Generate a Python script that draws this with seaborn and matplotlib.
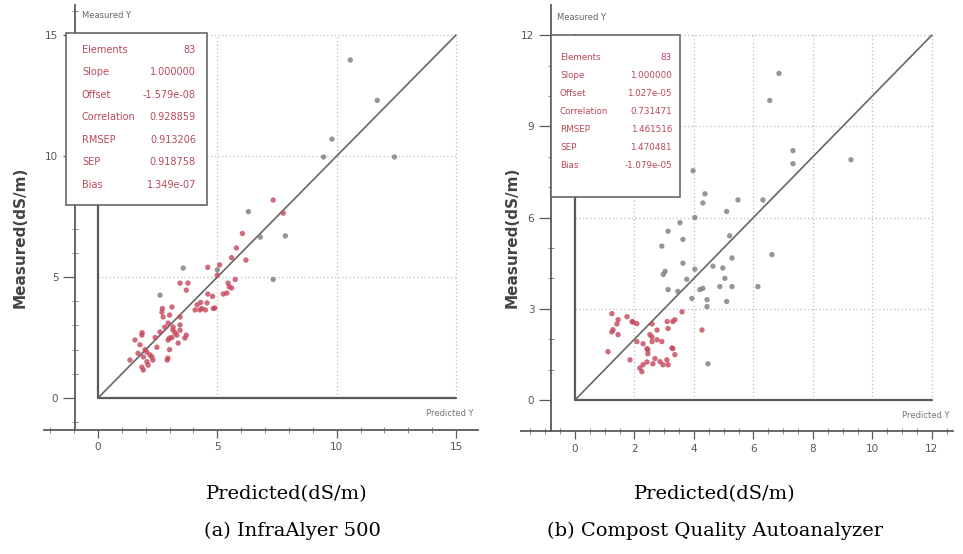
import matplotlib
matplotlib.use("Agg")
import matplotlib.pyplot as plt
import matplotlib.ticker as mticker
from matplotlib.patches import Rectangle
import pandas as pd
import seaborn as sns

# ---- (a) InfraAlyer 500: predicted vs measured EC (dS/m) ----
a_pred = [10.57, 11.7, 9.8, 9.45, 12.42, 7.34, 7.85, 6.8, 6.3, 5.0, 3.57, 2.6,
          7.34, 7.76, 6.05, 5.8, 6.2, 5.6, 4.6, 3.44, 3.7, 5.75, 5.5, 5.25, 4.8,
          4.6, 4.15, 4.35, 4.07, 4.5, 4.83, 4.3, 2.7, 3.1, 2.73, 3.44, 2.94, 3.15,
          3.23, 3.1, 3.44, 3.7, 2.94, 3.36, 3.0, 2.9, 2.6, 2.4, 1.85, 1.55, 1.76,
          1.97, 1.68, 2.18, 2.05, 1.9, 2.3, 1.34, 2.47,
          3.77, 5.0, 5.1, 5.45, 5.6, 5.4, 4.27, 4.57, 4.9, 2.68, 3.0, 2.8, 3.14,
          3.3, 3.0, 3.44, 3.64, 1.84, 2.05, 2.26, 1.9, 2.1, 1.84, 2.93]
a_meas = [13.97, 12.3, 10.7, 9.96, 9.96, 4.9, 6.7, 6.65, 7.7, 5.3, 5.37, 4.25,
          8.18, 7.64, 6.8, 6.2, 5.7, 5.8, 5.4, 4.75, 4.46, 4.9, 4.6, 4.3, 4.2,
          4.3, 3.85, 3.7, 3.64, 3.64, 3.7, 3.95, 3.7, 3.76, 3.35, 3.35, 3.1, 2.93,
          2.7, 2.5, 2.8, 2.6, 2.4, 2.27, 2.0, 1.57, 2.73, 2.5, 2.7, 2.4, 2.2,
          2.0, 1.85, 1.78, 1.5, 1.16, 1.57, 1.57, 2.1,
          4.75, 5.08, 5.5, 4.75, 4.55, 4.34, 3.64, 3.93, 3.72, 3.55, 3.43, 2.93, 2.81,
          2.6, 2.48, 3.02, 2.48, 2.6, 1.9, 1.7, 1.7, 1.36, 1.28, 1.65]
a_group = ["g"] * 12 + ["r"] * (len(a_pred) - 12)
a_stats_names = ["Elements", "Slope", "Offset", "Correlation", "RMSEP", "SEP", "Bias"]
a_stats_vals = ["83", "1.000000", "-1.579e-08", "0.928859", "0.913206", "0.918758", "1.349e-07"]

# ---- (b) Compost Quality Autoanalyzer ----
b_pred = [6.86, 6.55, 7.33, 7.33, 9.28, 6.32, 3.97, 3.46, 4.37, 5.48, 4.3, 5.1,
          4.03, 3.53, 3.13, 3.63, 5.2, 2.92, 6.62, 5.28, 3.63, 4.03, 4.64, 4.97,
          3.03, 2.97, 3.76, 5.04, 4.87, 5.28, 4.3, 4.2, 3.13, 3.46, 6.15, 3.93,
          4.44, 5.1, 4.44, 4.47,
          3.6, 3.36, 3.1, 3.13, 4.27, 1.24, 1.45, 1.75, 1.92, 2.08, 1.28, 1.45,
          1.11, 1.85, 2.25, 2.52, 2.59, 2.42, 2.45, 2.69, 2.86, 3.13, 2.96, 3.29,
          3.36, 2.76, 2.92, 3.29, 2.29, 2.62, 2.08, 2.29,
          1.41, 1.95, 1.24, 2.18, 2.42, 3.09, 3.26, 2.59, 2.45, 2.76, 2.59]
b_meas = [10.74, 9.85, 8.2, 7.77, 7.9, 6.58, 7.54, 6.88, 6.78, 6.58, 6.48, 6.2,
          6.0, 5.83, 5.55, 5.28, 5.4, 5.06, 4.78, 4.67, 4.5, 4.3, 4.4, 4.34,
          4.23, 4.13, 3.97, 4.0, 3.73, 3.73, 3.67, 3.63, 3.63, 3.57, 3.73, 3.34,
          3.3, 3.24, 3.07, 1.19,
          2.9, 2.64, 2.58, 2.35, 2.3, 2.84, 2.64, 2.74, 2.58, 2.51, 2.31, 2.15,
          1.59, 1.32, 0.93, 2.15, 1.92, 1.69, 1.52, 1.36, 1.26, 1.16, 1.16, 1.69,
          1.49, 1.98, 1.92, 2.58, 1.16, 1.19, 1.92, 1.85,
          2.5, 2.56, 2.24, 1.05, 1.25, 1.32, 1.71, 2.07, 1.65, 2.3, 2.5]
b_group = ["g"] * 40 + ["r"] * (len(b_pred) - 40)
b_stats_names = ["Elements", "Slope", "Offset", "Correlation", "RMSEP", "SEP", "Bias"]
b_stats_vals = ["83", "1.000000", "1.027e-05", "0.731471", "1.461516", "1.470481", "-1.079e-05"]

sns.set_theme(style="white")
plt.rcParams["font.family"] = ["DejaVu Sans"]

W, H = 963, 554
fig = plt.figure(figsize=(W / 100, H / 100), dpi=100)

POINT_COLORS = {"r": "#c4465a", "g": "#7c7c7c"}
STAT_COLOR = "#b9485a"
AXIS_GRAY = "#5a5a5a"


def px_axes(px0, px1, py0, py1):
    return fig.add_axes([px0 / W, 1 - py1 / H, (px1 - px0) / W, (py1 - py0) / H])


def draw_panel(ax, pred, meas, group, vmax, xstep, xminor, ystep, yminor,
               xlim, ylim, spine_x, box, names, vals, rows, label_x, value_x,
               stat_size, title_pos, pred_pos, frame):
    px0, px1, py0, py1 = frame

    def fx(px):
        return (px - px0) / (px1 - px0)

    def fy(py):
        return (py1 - py) / (py1 - py0)

    df = pd.DataFrame({"pred": pred, "meas": meas, "grp": group})
    ax.set_xlim(*xlim)
    ax.set_ylim(*ylim)

    # dotted grid inside the positive quadrant
    for v in range(xstep, vmax + 1, xstep):
        ax.vlines(v, 0, vmax, colors="#bdbdbd", linestyles=(0, (1, 2)), lw=0.9, zorder=1)
    for v in range(ystep, vmax + 1, ystep):
        ax.hlines(v, 0, vmax, colors="#bdbdbd", linestyles=(0, (1, 2)), lw=0.9, zorder=1)

    # inner axes and 1:1 line
    ax.plot([0, vmax], [0, 0], color=AXIS_GRAY, lw=1.6, zorder=2)
    ax.plot([0, 0], [0, vmax], color=AXIS_GRAY, lw=1.6, zorder=2)
    ax.plot([0, vmax], [0, vmax], color="#666666", lw=1.2, zorder=3)

    sns.scatterplot(data=df, x="pred", y="meas", hue="grp", palette=POINT_COLORS,
                    s=15, marker="o", alpha=0.8, linewidth=0, legend=False,
                    ax=ax, zorder=4)

    # outer axis lines and ticks
    for side in ("top", "right"):
        ax.spines[side].set_visible(False)
    ax.spines["left"].set_position(("data", spine_x))
    for side in ("left", "bottom"):
        ax.spines[side].set_color(AXIS_GRAY)
        ax.spines[side].set_linewidth(1.3)
    ax.set_xticks(range(0, vmax + 1, xstep))
    ax.set_yticks(range(0, vmax + 1, ystep))
    ax.xaxis.set_minor_locator(mticker.MultipleLocator(xminor))
    ax.yaxis.set_minor_locator(mticker.MultipleLocator(yminor))
    ax.tick_params(which="major", direction="out", length=6, width=0.9,
                   color=AXIS_GRAY, labelsize=7.5, labelcolor="#555555",
                   bottom=True, left=True, pad=3)
    ax.tick_params(axis="y", which="major", length=9, pad=3)
    ax.tick_params(which="minor", direction="inout", length=4, width=0.7,
                   color="#888888", bottom=True, left=True)
    ax.set_xlabel("")
    ax.set_ylabel("")

    # statistics box
    bx0, bx1, by0, by1 = box
    ax.add_patch(Rectangle((fx(bx0), fy(by1)), fx(bx1) - fx(bx0), fy(by0) - fy(by1),
                           transform=ax.transAxes, facecolor="white",
                           edgecolor=AXIS_GRAY, lw=1.1, zorder=6))
    for name, val, ry in zip(names, vals, rows):
        ax.text(fx(label_x), fy(ry), name, transform=ax.transAxes, color=STAT_COLOR,
                fontsize=stat_size, va="center", ha="left", zorder=7)
        ax.text(fx(value_x), fy(ry), val, transform=ax.transAxes, color=STAT_COLOR,
                fontsize=stat_size, va="center", ha="right", zorder=7)
    ax.text(fx(title_pos[0]), fy(title_pos[1]), "Measured Y", transform=ax.transAxes,
            color="#666666", fontsize=6, va="center", ha="left", zorder=7)
    ax.text(fx(pred_pos[0]), fy(pred_pos[1]), "Predicted Y", transform=ax.transAxes,
            color="#777777", fontsize=6, va="center", ha="right", zorder=7)


# panel (a)
frame_a = (44, 478, 5, 430)
ax_a = px_axes(*frame_a)
draw_panel(ax_a, a_pred, a_meas, a_group, vmax=15, xstep=5, xminor=1, ystep=5, yminor=1,
           xlim=(-2.26, 15.92), ylim=(-1.32, 16.24), spine_x=-0.96,
           box=(66, 207, 33, 205), names=a_stats_names, vals=a_stats_vals,
           rows=[50, 72, 95, 117, 140, 162, 185], label_x=82, value_x=196,
           stat_size=7, title_pos=(82, 16), pred_pos=(474, 414), frame=frame_a)

# panel (b)
frame_b = (521, 953, 5, 431)
ax_b = px_axes(*frame_b)
draw_panel(ax_b, b_pred, b_meas, b_group, vmax=12, xstep=2, xminor=0.5, ystep=3, yminor=1,
           xlim=(-1.815, 12.71), ylim=(-1.02, 12.99), spine_x=-0.807,
           box=(551, 680, 35, 197), names=b_stats_names, vals=b_stats_vals,
           rows=[58, 76, 94, 112, 130, 148, 166], label_x=560, value_x=672,
           stat_size=6.3, title_pos=(557, 18), pred_pos=(950, 415), frame=frame_b)

# axis titles and panel captions
for xpx in (20, 512):
    fig.text(xpx / W, 1 - 237 / H, "Measured(dS/m)", rotation=90, ha="center", va="center",
             fontsize=11, fontweight="bold", color="#444444")
for xpx in (287, 715):
    fig.text(xpx / W, 1 - 494 / H, "Predicted(dS/m)", ha="center", va="center",
             fontsize=14, family="DejaVu Serif", color="black")
fig.text(292 / W, 1 - 531 / H, "(a) InfraAlyer 500", ha="center", va="center",
         fontsize=14, family="DejaVu Serif", color="black")
fig.text(715 / W, 1 - 531 / H, "(b) Compost Quality Autoanalyzer", ha="center", va="center",
         fontsize=14, family="DejaVu Serif", color="black")

fig.savefig("out.png", dpi=100)
